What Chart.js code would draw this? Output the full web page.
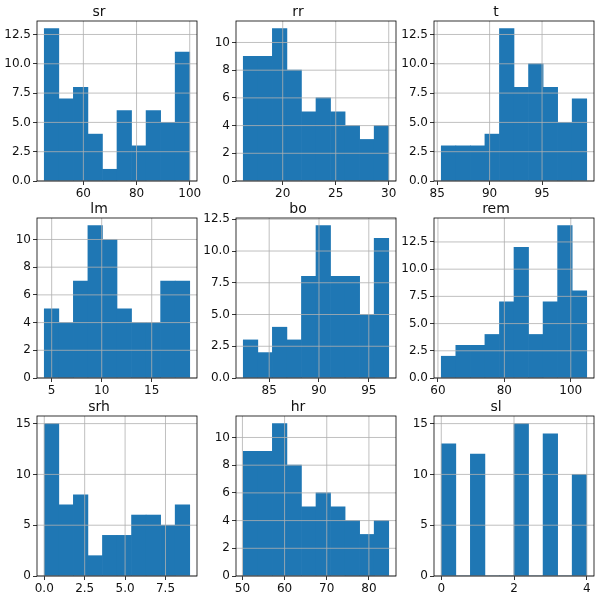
<!DOCTYPE html>
<html>
<head>
<meta charset="utf-8">
<script src="https://cdn.jsdelivr.net/npm/chart.js@4/dist/chart.umd.min.js"></script>
<style>
  html, body {margin: 0; padding: 0; background: #fff; overflow: hidden;}
  #grid {position: relative; width: 600px; height: 597px;}
  #grid canvas {position: absolute;}
</style>
</head>
<body>
<div id="grid"></div>
<script>
/* Histogram counts per column (10 bins each) */
const srCounts=[13,7,8,4,1,6,3,6,5,11];
const rrCounts=[9,9,11,8,5,6,5,4,3,4];
const tCounts=[3,3,3,4,13,8,10,8,5,7];
const lmCounts=[5,4,7,11,10,5,4,4,7,7];
const boCounts=[3,2,4,3,8,12,8,8,5,11];
const remCounts=[2,3,3,4,7,12,4,7,14,8];
const srhCounts=[15,7,8,2,4,4,6,6,5,7];
const hrCounts=[9,9,11,8,5,6,5,4,3,4];
const slCounts=[13,0,12,0,0,15,0,14,0,10];

/* Column names (panel titles) */
const names=["sr","rr","t","lm","bo","rem","srh","hr","sl"];

/* Data range (first and last bin edge) of each column */
const binLow=[45.3,16.28,85.39,4.26,82.4,61.0,0,50.2,0];
const binHigh=[100,30,99.26,18.8,97,104.8,9,84.7,4];

/* Tick labels */
const xTicks=[[60,80,100],[20,25,30],[85,90,95],[5,10,15],[85,90,95],[60,80,100],[0,2.5,5,7.5],[50,60,70,80],[0,2,4]];
const xDecimals=[0,0,0,0,0,0,1,0,0];
const yTicks=[
  [0,2.5,5,7.5,10,12.5],[0,2,4,6,8,10],[0,2.5,5,7.5,10,12.5],
  [0,2,4,6,8,10],[0,2.5,5,7.5,10,12.5],[0,2.5,5,7.5,10,12.5],
  [0,5,10,15],[0,2,4,6,8,10],[0,5,10,15]
];
const yDecimals=[1,0,1,0,1,1,0,0,0];

const allCounts=[srCounts,rrCounts,tCounts,lmCounts,boCounts,remCounts,srhCounts,hrCounts,slCounts];

/* Layout of the plot areas */
const colLeft=[36.5,236,434];
const rowTop=[21,218,416];
const plotSize=160;
const axisWidth=36;
const titleHeight=21;
const axisHeight=22;
const rightPad=16;

const fontFamily="'DejaVu Sans', sans-serif";

/**
 * Draws grid lines on top of the bars and the four spines.
 */
const overlayPlugin={
  id: 'overlay',
  afterDatasetsDraw(chart) {
    const ctx=chart.ctx;
    const a=chart.chartArea;
    const x=chart.scales.x;
    const y=chart.scales.y;
    ctx.save();
    ctx.lineWidth=0.8;
    ctx.strokeStyle="#b0b0b0";
    ctx.beginPath();
    for (const t of x.ticks) {
      const px=x.getPixelForValue(t.value);
      ctx.moveTo(px,a.top); ctx.lineTo(px,a.bottom);
    }
    for (const t of y.ticks) {
      const py=y.getPixelForValue(t.value);
      ctx.moveTo(a.left,py); ctx.lineTo(a.right,py);
    }
    ctx.stroke();
    ctx.strokeStyle="#000";
    ctx.strokeRect(a.left,a.top,a.right-a.left,a.bottom-a.top);
    ctx.restore();
  }
};

function makePanel(i) {
  const counts=allCounts[i];
  const lo=binLow[i];
  const hi=binHigh[i];
  const w=(hi-lo)/counts.length;
  const data=counts.map((c,k)=>({x: lo+(k+0.5)*w, y: c}));
  const margin=(hi-lo)*0.05;
  const yMax=Math.max(...counts)*1.05;

  const canvas=document.createElement("canvas");
  canvas.width=axisWidth+plotSize+rightPad;
  canvas.height=titleHeight+plotSize+axisHeight;
  canvas.style.left=(colLeft[i%3]-axisWidth)+"px";
  canvas.style.top=(rowTop[Math.floor(i/3)]-titleHeight)+"px";
  document.getElementById("grid").appendChild(canvas);

  const tickFont={family: fontFamily, size: 12};
  new Chart(canvas,{
    type: 'bar',
    data: {datasets: [{data: data, backgroundColor: "#1f77b4", borderWidth: 0, barPercentage: 1, categoryPercentage: 1}]},
    options: {
      responsive: false,
      animation: false,
      devicePixelRatio: 1,
      layout: {padding: {left: 0, right: rightPad, top: 0, bottom: 0}},
      scales: {
        x: {
          type: 'linear', offset: false,
          min: lo-margin, max: hi+margin,
          afterBuildTicks: s=>{s.ticks=xTicks[i].map(v=>({value: v}));},
          afterFit: s=>{s.height=axisHeight;},
          ticks: {font: tickFont, color: "#111", padding: 2, maxRotation: 0, callback: v=>v.toFixed(xDecimals[i])},
          grid: {display: true, offset: false, drawOnChartArea: false, drawTicks: true, tickLength: 4, tickColor: "#000", tickWidth: 0.8},
          border: {display: false}
        },
        y: {
          type: 'linear', min: 0, max: yMax,
          afterBuildTicks: s=>{s.ticks=yTicks[i].map(v=>({value: v}));},
          afterFit: s=>{s.width=axisWidth;},
          ticks: {font: tickFont, color: "#111", padding: 2, callback: v=>v.toFixed(yDecimals[i])},
          grid: {display: true, drawOnChartArea: false, drawTicks: true, tickLength: 4, tickColor: "#000", tickWidth: 0.8},
          border: {display: false}
        }
      },
      plugins: {
        legend: {display: false},
        tooltip: {enabled: false},
        title: {display: true, text: names[i], color: "#111", font: {family: fontFamily, size: 14, weight: 'normal', lineHeight: 1.2}, padding: {top: 3.6, bottom: 0.6}}
      }
    },
    plugins: [overlayPlugin]
  });
}

for (let i=0;i<names.length;i++) makePanel(i);
</script>
</body>
</html>
